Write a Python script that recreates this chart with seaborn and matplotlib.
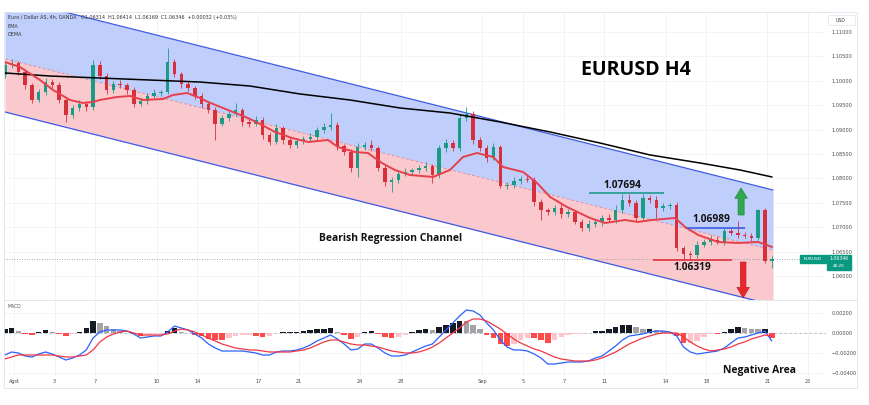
import numpy as np
import pandas as pd
import seaborn as sns
import matplotlib.pyplot as plt
from matplotlib.patches import FancyArrow, Rectangle
from matplotlib.lines import Line2D

# ---- data (8h steps, 3 per trading day) ----
first_open = 1.1012
closes = [1.1032, 1.1036, 1.1018, 1.0991, 1.0961, 1.0977, 1.0998, 1.0991, 1.0961, 1.0930,
          1.0944, 1.0953, 1.0946, 1.1032, 1.1010, 1.0981, 1.0993, 1.0991, 1.0981, 1.0953,
          1.0959, 1.0969, 1.0975, 1.0977, 1.1039, 1.1014, 1.0993, 1.0985, 1.0969, 1.0953,
          1.0940, 1.0912, 1.0924, 1.0932, 1.0940, 1.0916, 1.0912, 1.0920, 1.0889, 1.0875,
          1.0903, 1.0879, 1.0868, 1.0877, 1.0881, 1.0885, 1.0899, 1.0905, 1.0909, 1.0866,
          1.0854, 1.0821, 1.0864, 1.0868, 1.0862, 1.0821, 1.0793, 1.0797, 1.0809, 1.0813,
          1.0817, 1.0821, 1.0825, 1.0807, 1.0862, 1.0872, 1.0862, 1.0924, 1.0932, 1.0879,
          1.0862, 1.0842, 1.0864, 1.0784, 1.0786, 1.0795, 1.0799, 1.0797, 1.0752, 1.0735,
          1.0731, 1.0739, 1.0727, 1.0731, 1.0711, 1.0698, 1.0707, 1.0711, 1.0719, 1.0715,
          1.0735, 1.0756, 1.0750, 1.0719, 1.0760, 1.0756, 1.0739, 1.0743, 1.0745, 1.0657,
          1.0645, 1.0643, 1.0664, 1.0670, 1.0674, 1.0670, 1.0692, 1.0688, 1.0684, 1.0682,
          1.0678, 1.0735, 1.0631, 1.0635]
# wick lengths beyond the body, in pips
wick_up = [6, 8, 5, 6, 5, 6, 8, 5, 6, 5, 6, 8, 6, 11, 8, 5, 6, 8, 5, 6,
           5, 6, 8, 5, 28, 6, 5, 6, 5, 6, 5, 6, 5, 6, 15, 5, 6, 8, 5, 6,
           8, 5, 6, 5, 6, 8, 6, 8, 25, 6, 5, 6, 8, 6, 10, 5, 6, 5, 6, 8,
           5, 6, 8, 5, 6, 8, 6, 8, 14, 6, 5, 6, 8, 5, 6, 8, 6, 8, 5, 6,
           5, 6, 8, 6, 5, 6, 8, 6, 5, 8, 10, 12, 13, 6, 9, 6, 8, 6, 5, 6,
           5, 6, 8, 6, 10, 8, 6, 7, 25, 6, 6, 3, 4, 6]
wick_dn = [6, 5, 6, 8, 6, 5, 6, 8, 6, 14, 6, 5, 8, 5, 6, 8, 5, 6, 8, 6,
           5, 6, 5, 6, 5, 6, 8, 5, 6, 8, 6, 33, 5, 6, 5, 8, 6, 5, 8, 6,
           5, 8, 6, 5, 6, 5, 6, 5, 6, 8, 6, 8, 18, 6, 5, 6, 8, 21, 6, 5,
           6, 5, 6, 16, 6, 8, 6, 5, 6, 8, 6, 8, 5, 4, 6, 5, 6, 5, 8, 20,
           6, 5, 8, 6, 5, 6, 5, 6, 8, 5, 6, 5, 6, 8, 5, 6, 20, 6, 5, 6,
           13, 11, 6, 5, 6, 5, 6, 5, 6, 5, 6, 4, 5, 14]

# MACD and signal, in pips (1e-4)
macd_pips = [-22, -19, -20, -23, -24, -21, -19, -21, -24, -27,
             -25, -22, -17, -5, 1, 3, 3, 3, 2, -1,
             -5, -4, -3, -3, 1, 7, 5, 3, -1, -5,
             -11, -15, -18, -18, -18, -18, -19, -20, -22, -22,
             -19, -18, -18, -17, -15, -12, -8, -5, -2, -6,
             -11, -17, -16, -11, -11, -15, -20, -23, -23, -22,
             -19, -16, -13, -11, -4, 3, 10, 17, 23, 22,
             18, 10, 3, -7, -14, -17, -17, -18, -21, -25,
             -31, -31, -30, -29, -29, -29, -28, -25, -23, -18,
             -13, -7, -3, -2, -1, 1, 2, 2, 1, -3,
             -14, -19, -21, -20, -19, -18, -15, -10, -5, -4,
             -2, 0, 2, -8]
signal_pips = [-26, -24, -22, -22, -22, -22, -22, -22, -23, -24,
               -24, -23, -22, -17, -9, -4, -1, 1, 2, 0,
               -2, -2, -2, -2, -1, 2, 4, 3, 1, -2,
               -5, -8, -11, -13, -15, -16, -17, -17, -18, -19,
               -19, -19, -19, -18, -17, -15, -12, -9, -7, -7,
               -9, -11, -12, -12, -13, -14, -16, -18, -19, -20,
               -20, -19, -17, -14, -10, -5, 0, 5, 11, 14,
               14, 12, 8, 4, -1, -6, -10, -13, -16, -18,
               -21, -24, -26, -27, -28, -28, -28, -27, -25, -22,
               -19, -15, -11, -8, -5, -3, -1, 0, 0, 0,
               -4, -9, -13, -16, -18, -17, -16, -14, -11, -9,
               -6, -4, -2, -3]

# long EMA (black) and DEMA (red), day index vs price
ema_day = [-0.44, 1.77, 4.22, 6.68, 9.14, 11.59, 14.05, 16.50, 18.96, 21.41,
           23.87, 26.33, 28.78, 31.24, 33.69, 35.66, 37.23]
ema_val = [1.10160, 1.10098, 1.10057, 1.10016, 1.09975, 1.09893, 1.09730, 1.09607, 1.09443, 1.09340,
           1.09156, 1.08951, 1.08725, 1.08480, 1.08316, 1.08172, 1.08029]
dema_day = [-0.44, 0.29, 1.28, 1.92, 2.75, 3.39, 3.88, 4.22, 5.06, 5.70, 6.34, 7.32, 7.81, 8.50,
            9.14, 9.53, 10.51, 11.49, 12.18, 12.82, 13.65, 14.44, 15.42, 15.91, 16.75, 17.39,
            18.07, 18.71, 19.45, 20.58, 21.41, 22.05, 22.74, 23.53, 24.02, 25.00, 25.69, 26.33,
            27.16, 28.29, 29.03, 30.01, 30.65, 31.34, 32.47, 32.96, 33.60, 34.58, 35.56, 36.54,
            36.98, 37.23]
dema_val = [1.10385, 1.10283, 1.10016, 1.09811, 1.09607, 1.09545, 1.09566, 1.09607, 1.09668, 1.09689,
            1.09607, 1.09627, 1.09709, 1.09750, 1.09648, 1.09566, 1.09402, 1.09238, 1.09094, 1.08951,
            1.08828, 1.08746, 1.08787, 1.08643, 1.08541, 1.08520, 1.08316, 1.08172, 1.08070, 1.08029,
            1.08172, 1.08439, 1.08520, 1.08439, 1.08234, 1.08131, 1.07906, 1.07619, 1.07414, 1.07189,
            1.07086, 1.07148, 1.07107, 1.07148, 1.07189, 1.07004, 1.06840, 1.06697, 1.06676, 1.06697,
            1.06635, 1.06594]

# regression channel end points
chan_day = [-0.44, 37.28]
chan_up = [1.11717, 1.07762]
chan_mid = [1.10447, 1.06529]
chan_lo = [1.09361, 1.05406]

level_val = [1.07694, 1.06989, 1.06319]
level_from = [28.24, 33.06, 31.38]
level_to = [31.93, 35.90, 35.27]
last_price = 1.06346

tick_day = [0, 2, 4, 7, 9, 12, 14, 17, 19, 23, 25, 27, 29, 32, 34, 37, 39]
tick_lab = ['Agst', '3', '7', '10', '14', '17', '21', '24', '28', 'Sep', '5', '7', '11',
            '14', '18', '21', '25']
price_ticks = [1.060, 1.065, 1.070, 1.075, 1.080, 1.085, 1.090, 1.095, 1.100, 1.105, 1.110]
macd_ticks = [0.002, 0.0, -0.002, -0.004]

assert len(closes) == len(wick_up) == len(wick_dn) == len(macd_pips) == len(signal_pips)

W, H = 870, 405
def fx(x): return x / W
def fy(y): return 1 - y / H

sns.set_theme(style='white')
plt.rcParams['font.family'] = ['DejaVu Sans']
BOLD = ['Open Sans', 'DejaVu Sans']
GREEN = '#1b9a85'
RED = '#d6303d'

fig = plt.figure(figsize=(8.7, 4.05), dpi=100)
ax = fig.add_axes([fx(4), fy(300), fx(826) - fx(4), fy(12) - fy(300)])
axm = fig.add_axes([fx(4), fy(376), fx(826) - fx(4), fy(300) - fy(376)], sharex=ax)

# candles
n = len(closes)
t = -0.45 + np.arange(n) / 3
df = pd.DataFrame({'t': t, 'open': [first_open] + closes[:-1], 'close': closes})
body_lo = df[['open', 'close']].min(axis=1)
body_hi = df[['open', 'close']].max(axis=1)
df['high'] = body_hi + np.array(wick_up) * 1e-4
df['low'] = body_lo - np.array(wick_dn) * 1e-4
df['up'] = df['close'] >= df['open']

# regression channel
ax.fill_between(chan_day, chan_mid, chan_up, color='#c0cefb', lw=0, zorder=1)
ax.fill_between(chan_day, chan_lo, chan_mid, color='#fac9ce', lw=0, zorder=1)
ax.plot(chan_day, chan_up, color='#3d5be0', lw=0.9, zorder=2)
ax.plot(chan_day, chan_lo, color='#3d5be0', lw=0.9, zorder=2)
ax.plot(chan_day, chan_mid, color='#e98d94', lw=0.7, ls=(0, (3, 2)), zorder=2)

for up, col in [(True, GREEN), (False, RED)]:
    d = df[df['up'] == up]
    ax.vlines(d['t'], d['low'], d['high'], color=col, lw=0.6, zorder=3)
    ax.bar(d['t'], (d['close'] - d['open']).abs().clip(lower=0.00008),
           bottom=d[['open', 'close']].min(axis=1), width=0.17, color=col, lw=0, zorder=3)

sns.lineplot(x=ema_day, y=ema_val, ax=ax, color='black', lw=1.1, zorder=4)
sns.lineplot(x=dema_day, y=dema_val, ax=ax, color='#e8404a', lw=1.4, zorder=4)

ax.axhline(last_price, color='#8a8e99', lw=0.6, ls=(0, (1, 2)), zorder=2)

for v, a, b, c in zip(level_val, level_from, level_to, ['#1f9c8c', '#3d5be0', '#e0323c']):
    ax.hlines(v, a, b, color=c, lw=1.2, zorder=5)

ax.add_patch(FancyArrow(35.71, 1.07250, 0, 0.00553, width=0.30, head_width=0.62,
                        head_length=0.0021, length_includes_head=True,
                        fc='#2fa84f', ec='#1f7a3a', lw=0.4, zorder=6))
ax.add_patch(FancyArrow(35.81, 1.06287, 0, -0.00738, width=0.28, head_width=0.62,
                        head_length=0.0022, length_includes_head=True,
                        fc='#e8262e', ec='#b01c22', lw=0.4, zorder=6))

# MACD panel
macd = np.array(macd_pips) * 1e-4
signal = np.array(signal_pips) * 1e-4
hist = macd - signal
prev = np.r_[hist[0], hist[:-1]]
hist_col = np.where(hist >= 0,
                    np.where(hist >= prev, '#161a25', '#a3a3a8'),
                    np.where(hist < prev, '#ff4a4a', '#ffc4c9'))
axm.bar(t, hist, width=0.27, color=hist_col, lw=0, zorder=2)
axm.axhline(0, color='#b2b5be', lw=0.6, ls=(0, (3, 3)), zorder=1)
sns.lineplot(x=t, y=macd, ax=axm, color='#2962ff', lw=0.9, zorder=3)
sns.lineplot(x=t, y=signal, ax=axm, color='#f23645', lw=0.9, zorder=3)

# axes styling
ax.set_xlim(-0.49, 39.88)
ax.set_ylim(1.05508, 1.11410)
axm.set_ylim(-0.0043, 0.0033)
for a in (ax, axm):
    a.set_xlabel('')
    a.set_ylabel('')
    a.yaxis.tick_right()
    a.grid(True, color='#eef0f5', lw=0.5)
    a.set_axisbelow(True)
    for s in a.spines.values():
        s.set_visible(False)
ax.set_yticks(price_ticks)
ax.set_yticklabels([f'{v:.5f}' for v in price_ticks])
axm.set_yticks(macd_ticks)
axm.set_yticklabels([f'{v:.5f}'.replace('-', '\u2212') for v in macd_ticks])
axm.set_xticks(tick_day)
axm.set_xticklabels(tick_lab)
ax.tick_params(axis='y', length=0, pad=4, labelsize=3.6, labelcolor='#4a4a4a')
ax.tick_params(axis='x', length=0, labelbottom=False)
axm.tick_params(axis='y', length=0, pad=4, labelsize=3.6, labelcolor='#4a4a4a')
axm.tick_params(axis='x', length=0, pad=2, labelsize=3.6, labelcolor='#4a4a4a')

# frame and separators
fig.patches.append(Rectangle((fx(4), fy(388)), (857 - 4) / W, (388 - 12) / H, fill=False,
                             ec='#e0e3eb', lw=0.6, transform=fig.transFigure))
fig.lines.append(Line2D([fx(4), fx(857)], [fy(300), fy(300)], color='#e0e3eb', lw=0.6,
                        transform=fig.transFigure))

# texts
header = 'Euro / Dollar AS, 4h, OANDA   O1.06314  H1.06414  L1.06169  C1.06346  +0.00032 (+0.03%)'
fig.text(fx(8), fy(18), header, fontsize=3.5, color='#333333', va='center')
fig.text(fx(8), fy(26), 'EMA', fontsize=3.5, color='#333333', va='center')
fig.text(fx(8), fy(34), 'DEMA', fontsize=3.5, color='#333333', va='center')
fig.text(fx(8), fy(307), 'MACD', fontsize=3.3, color='#555555', va='center')

fig.text(fx(636), fy(70), 'EURUSD H4', family=BOLD, fontweight='bold', fontsize=14,
         ha='center', va='center', color='black')
fig.text(fx(391), fy(238), 'Bearish Regression Channel', family=BOLD, fontweight='bold',
         fontsize=7.5, ha='center', va='center', color='#111111')
fig.text(fx(622), fy(186), '1.07694', family=BOLD, fontweight='bold', fontsize=7.3,
         ha='center', va='center', color='#111111')
fig.text(fx(711), fy(220), '1.06989', family=BOLD, fontweight='bold', fontsize=7.3,
         ha='center', va='center', color='#111111')
fig.text(fx(692), fy(267), '1.06319', family=BOLD, fontweight='bold', fontsize=7.3,
         ha='center', va='center', color='#111111')
fig.text(fx(760), fy(371), 'Negative Area', family=BOLD, fontweight='bold', fontsize=7.5,
         ha='center', va='center', color='#111111')

# price scale tags
fig.patches.append(Rectangle((fx(800), fy(263)), 26 / W, 8 / H, color='#089981',
                             transform=fig.transFigure))
fig.text(fx(813), fy(259), 'EURUSD', fontsize=3.2, color='white', ha='center', va='center')
fig.patches.append(Rectangle((fx(827), fy(270)), 24 / W, 15 / H, color='#089981',
                             transform=fig.transFigure))
fig.text(fx(839), fy(259), '1.06346', fontsize=3.3, color='white', ha='center', va='center')
fig.text(fx(839), fy(266), '48:28', fontsize=3.0, color='white', ha='center', va='center')
fig.patches.append(Rectangle((fx(828), fy(25)), 27 / W, 10 / H, fill=False, ec='#e0e3eb',
                             lw=0.5, transform=fig.transFigure))
fig.text(fx(841), fy(20), 'USD', fontsize=3.3, color='#333333', ha='center', va='center')

fig.savefig('out.png', dpi=100, facecolor='white')
